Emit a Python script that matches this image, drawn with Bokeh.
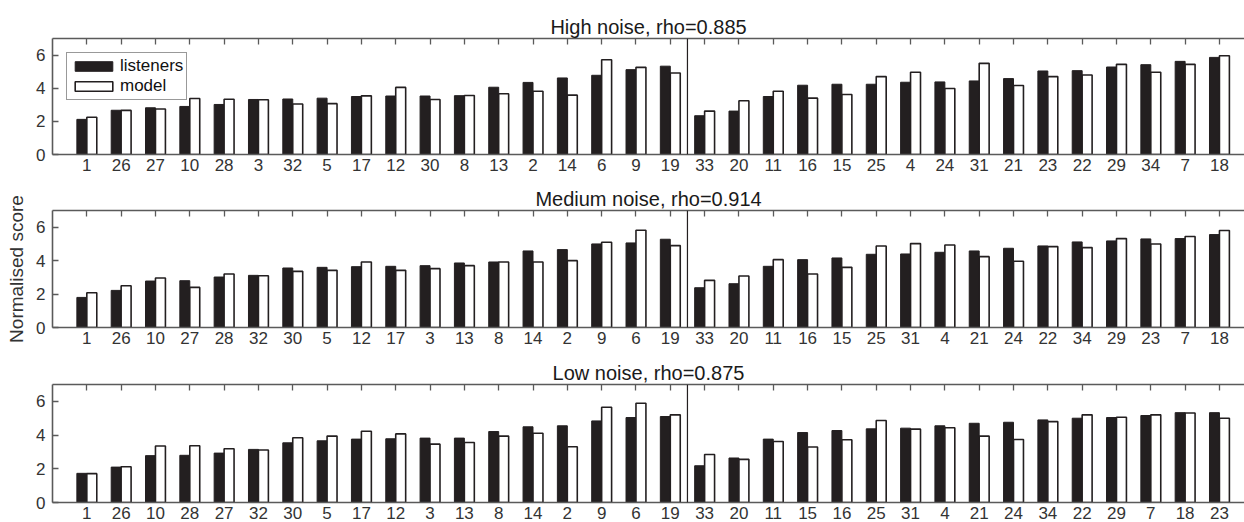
from bokeh.plotting import figure
from bokeh.layouts import column
from bokeh.models import (ColumnDataSource, Range1d, FixedTicker, LinearAxis,
                          Span, Legend, LegendItem)
from bokeh.transform import dodge
from bokeh.embed import file_html
from bokeh.resources import INLINE

FONT = "Liberation Sans"

titles = ["High noise, rho=0.885", "Medium noise, rho=0.914", "Low noise, rho=0.875"]
y_label = "Normalised score"
series_names = ["listeners", "model"]

high_labels = ["1", "26", "27", "10", "28", "3", "32", "5", "17", "12", "30", "8", "13", "2",
               "14", "6", "9", "19", "33", "20", "11", "16", "15", "25", "4", "24", "31", "21",
               "23", "22", "29", "34", "7", "18"]
high_listeners = [2.12, 2.67, 2.82, 2.90, 3.02, 3.32, 3.35, 3.40, 3.50, 3.53, 3.53, 3.55, 4.06,
                  4.35, 4.62, 4.78, 5.12, 5.33, 2.34, 2.62, 3.50, 4.18, 4.24, 4.24, 4.36, 4.38,
                  4.44, 4.58, 5.04, 5.06, 5.28, 5.42, 5.62, 5.86]
high_model = [2.25, 2.66, 2.75, 3.38, 3.33, 3.30, 3.05, 3.07, 3.54, 4.05, 3.32, 3.56, 3.67,
              3.82, 3.58, 5.72, 5.26, 4.92, 2.62, 3.24, 3.82, 3.40, 3.62, 4.70, 4.96, 3.98,
              5.50, 4.16, 4.70, 4.80, 5.44, 4.96, 5.44, 5.96]

medium_labels = ["1", "26", "10", "27", "28", "32", "30", "5", "12", "17", "3", "13", "8", "14",
                 "2", "9", "6", "19", "33", "20", "11", "16", "15", "25", "31", "4", "21", "24",
                 "22", "34", "29", "23", "7", "18"]
medium_listeners = [1.80, 2.22, 2.78, 2.80, 3.02, 3.12, 3.56, 3.60, 3.64, 3.66, 3.70, 3.86,
                    3.92, 4.58, 4.66, 5.00, 5.06, 5.28, 2.38, 2.62, 3.66, 4.06, 4.16, 4.38,
                    4.40, 4.50, 4.58, 4.74, 4.88, 5.12, 5.18, 5.30, 5.32, 5.56]
medium_model = [2.08, 2.50, 2.96, 2.40, 3.20, 3.10, 3.36, 3.42, 3.92, 3.42, 3.52, 3.70, 3.92,
                3.92, 4.00, 5.10, 5.82, 4.90, 2.82, 3.08, 4.06, 3.20, 3.60, 4.88, 5.02, 4.94,
                4.24, 3.96, 4.84, 4.78, 5.32, 5.00, 5.44, 5.80]

low_labels = ["1", "26", "10", "28", "27", "32", "30", "5", "17", "12", "3", "13", "8", "14",
              "2", "9", "6", "19", "33", "20", "11", "15", "16", "25", "31", "4", "21", "24",
              "34", "22", "29", "7", "18", "23"]
low_listeners = [1.73, 2.10, 2.78, 2.80, 2.93, 3.15, 3.54, 3.66, 3.76, 3.78, 3.82, 3.82, 4.21,
                 4.49, 4.55, 4.84, 5.04, 5.10, 2.18, 2.64, 3.76, 4.15, 4.27, 4.37, 4.41, 4.55,
                 4.70, 4.76, 4.90, 5.00, 5.04, 5.16, 5.33, 5.33]
low_model = [1.71, 2.12, 3.35, 3.37, 3.19, 3.11, 3.84, 3.94, 4.23, 4.07, 3.46, 3.56, 3.94,
             4.11, 3.31, 5.65, 5.89, 5.20, 2.85, 2.56, 3.62, 3.29, 3.72, 4.86, 4.35, 4.43,
             3.94, 3.74, 4.80, 5.20, 5.06, 5.20, 5.31, 5.00]

y_ticks = [0, 2, 4, 6]
group_split = 18.5  # boundary between the two sentence groups

BAR_DARK = "#231f20"
AXIS_COL = "#5a5a5a"
TEXT_COL = "#333333"


def make_panel(title, labels, listeners, model, height, b_top, b_bottom,
               show_legend=False, ylabel=None):
    xs = list(range(1, len(labels) + 1))
    src = ColumnDataSource(dict(x=xs, listeners=listeners, model=model))
    p = figure(width=1244, height=height, output_backend="svg", toolbar_location=None,
               x_range=Range1d(0, 34.73), y_range=Range1d(0, 7),
               x_axis_type=None, y_axis_type=None,
               min_border_left=52, min_border_right=0,
               min_border_top=b_top, min_border_bottom=b_bottom)
    p.outline_line_color = None
    p.background_fill_color = "white"
    p.border_fill_color = "white"

    p.title.text = title
    p.title.align = "center"
    p.title.text_font = FONT
    p.title.text_font_size = "20px"
    p.title.text_font_style = "normal"
    p.title.text_color = "#1a1a1a"
    p.title.standoff = 1
    p.title.offset = 0

    r1 = p.vbar(x=dodge("x", -0.145, range=p.x_range), top="listeners", width=0.29,
                source=src, fill_color=BAR_DARK, line_color=BAR_DARK, line_width=1)
    r2 = p.vbar(x=dodge("x", 0.145, range=p.x_range), top="model", width=0.29,
                source=src, fill_color="white", line_color=BAR_DARK, line_width=1.6)

    # bottom axis with category labels
    xb = LinearAxis(ticker=FixedTicker(ticks=xs),
                    major_label_overrides={x: lab for x, lab in zip(xs, labels)})
    xb.axis_line_color = AXIS_COL
    xb.axis_line_width = 1.6
    xb.major_tick_in = 0
    xb.major_tick_out = 0
    xb.minor_tick_line_color = None
    xb.major_label_standoff = 4
    xb.major_label_text_font = FONT
    xb.major_label_text_font_size = "17px"
    xb.major_label_text_color = TEXT_COL
    p.add_layout(xb, "below")

    # top axis: inward (unlabelled minor) ticks only
    xt = LinearAxis(ticker=FixedTicker(ticks=[], minor_ticks=xs))
    xt.axis_line_color = AXIS_COL
    xt.axis_line_width = 1.6
    xt.major_tick_line_color = None
    xt.minor_tick_in = 6
    xt.minor_tick_out = 0
    xt.minor_tick_line_color = AXIS_COL
    xt.minor_tick_line_width = 1.3
    xt.major_label_standoff = 0
    p.add_layout(xt, "above")

    # left axis
    yl = LinearAxis(ticker=FixedTicker(ticks=y_ticks))
    yl.axis_line_color = AXIS_COL
    yl.axis_line_width = 1.6
    yl.major_tick_in = 6
    yl.major_tick_out = 0
    yl.major_tick_line_color = AXIS_COL
    yl.major_tick_line_width = 1.3
    yl.minor_tick_line_color = None
    yl.major_label_standoff = 7
    yl.major_label_text_font = FONT
    yl.major_label_text_font_size = "17px"
    yl.major_label_text_color = TEXT_COL
    if ylabel:
        yl.axis_label = ylabel
        yl.axis_label_text_font = FONT
        yl.axis_label_text_font_size = "19px"
        yl.axis_label_text_font_style = "normal"
        yl.axis_label_text_color = TEXT_COL
        yl.axis_label_standoff = 6
    p.add_layout(yl, "left")

    p.add_layout(Span(location=group_split, dimension="height",
                      line_color=BAR_DARK, line_width=1.2))

    if show_legend:
        leg = Legend(items=[LegendItem(label=series_names[0], renderers=[r1]),
                            LegendItem(label=series_names[1], renderers=[r2])],
                     location="top_left")
        leg.margin = 14
        leg.padding = 3
        leg.spacing = 0
        leg.glyph_width = 47
        leg.glyph_height = 12
        leg.label_height = 12
        leg.label_standoff = 3
        leg.label_text_font = FONT
        leg.label_text_font_size = "17px"
        leg.label_text_line_height = 1.0
        leg.label_text_color = "#111111"
        leg.border_line_color = "#333333"
        leg.border_line_width = 1.5
        leg.background_fill_alpha = 1
        p.add_layout(leg)
    return p


p1 = make_panel(titles[0], high_labels, high_listeners, high_model, 180, 38, 26,
                show_legend=True)
p2 = make_panel(titles[1], medium_labels, medium_listeners, medium_model, 174, 30, 27,
                ylabel=y_label)
p3 = make_panel(titles[2], low_labels, low_listeners, low_model, 168, 30, 20)

layout = column(p1, p2, p3, spacing=0)
open("out.html", "w").write(file_html(layout, INLINE))
